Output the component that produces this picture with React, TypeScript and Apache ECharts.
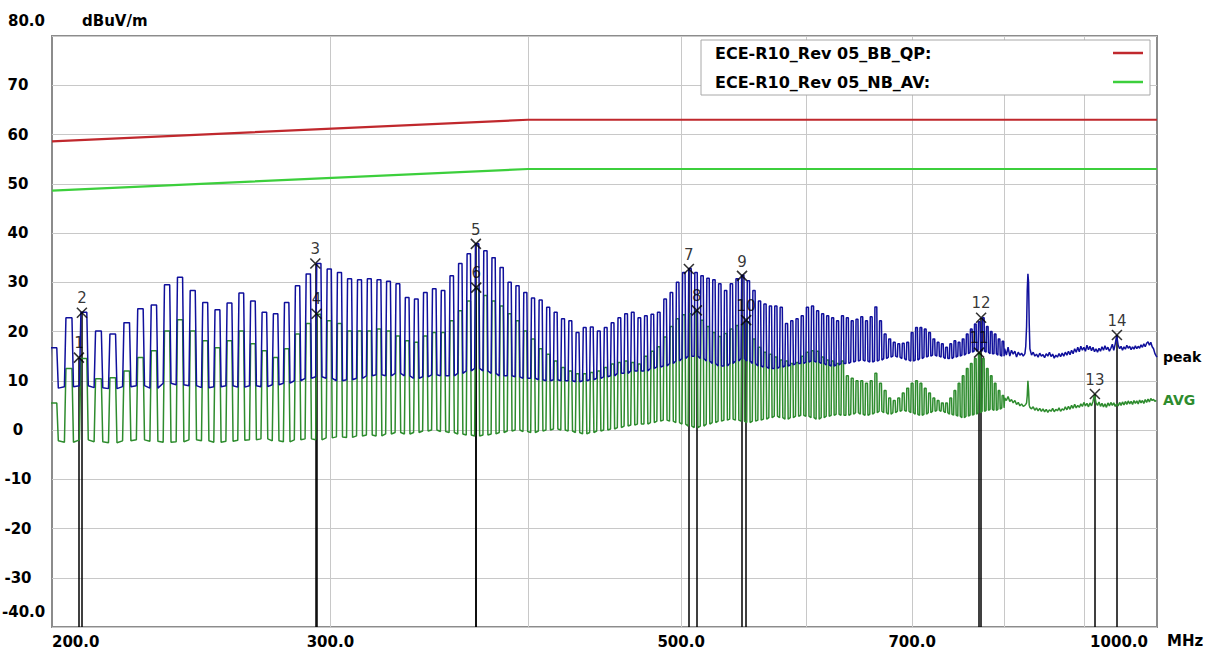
import React, { useEffect, useRef } from 'react';
import * as echarts from 'echarts';

// ---- Comb region (200 - 800 MHz): one entry per comb line ----
const COMB_START_MHZ = 200.5;
const COMB_STEP_MHZ = 4.5;

const peakTop = [
  16.7, 22.8, 23.9, 20.1, 19.5, 21.8, 24.6, 25.4, 29.5, 31.0, 28.3, 25.9, 24.4, 25.8, 27.8,
  26.2, 23.9, 23.6, 25.9, 29.3, 31.7, 33.8, 32.7, 32.0, 30.7, 30.5, 30.7, 30.5, 30.2, 29.7, 26.9, 26.6, 27.9, 28.7, 28.3,
  31.3, 33.8, 35.8, 37.8, 36.4, 35.0, 33.0, 30.0, 29.3, 27.9, 26.8, 26.4, 24.9, 23.9, 22.6, 22.2, 19.8, 20.8, 20.9, 20.1, 20.8, 21.8, 22.8, 23.6, 23.9, 22.8,
  23.2, 23.5, 23.9, 26.6, 27.9, 30.0, 32.0, 32.8, 32.0, 31.3, 30.8, 30.5, 29.7, 28.3, 29.7, 30.7, 31.4, 30.3, 28.3, 26.2, 25.6, 25.2, 25.2, 24.9, 21.6, 22.2, 22.6, 23.2, 24.9, 25.2, 24.2, 23.6, 23.2, 22.8, 22.2, 23.2,
  22.8, 22.2, 22.5, 23.0, 22.2, 23.0, 25.0, 22.2, 19.5, 18.5, 17.8, 17.5, 17.6, 17.8, 19.8, 20.8, 20.8, 20.5, 19.8, 18.5, 17.8, 17.5, 16.8, 17.5, 18.1, 17.8, 18.5, 19.5, 20.5, 21.5, 22.0, 22.8, 21.0, 20.0, 19.5, 18.5, 18.0,
];

const peakBase = [
  8.5, 8.8, 9.0, 8.6, 8.4, 8.8, 9.0, 8.5, 9.5, 9.2, 9.0, 8.6, 8.8, 9.0, 8.7,
  9.0, 8.8, 9.2, 9.5, 10.0, 10.5, 10.8, 10.5, 10.0, 10.2, 10.5, 11.0, 11.2, 11.0, 11.5, 11.0, 10.5, 10.8, 11.2, 11.0,
  11.0, 11.5, 12.0, 12.5, 12.0, 11.5, 11.0, 11.0, 10.8, 10.5, 10.5, 10.2, 10.0, 10.2, 10.0, 10.0, 9.8, 10.0, 10.2, 10.5, 10.8, 11.0, 11.5, 11.5, 12.0, 12.0,
  12.0, 12.5, 12.8, 13.0, 13.5, 14.0, 14.5, 15.0, 15.0, 14.5, 14.0, 13.5, 13.0, 13.0, 13.5, 14.0, 14.5, 14.0, 13.5, 13.0, 12.8, 12.5, 12.5, 12.8, 13.0, 13.2, 13.5, 13.5, 13.8, 14.0, 13.8, 13.5, 13.2, 13.0, 13.2, 13.5,
  13.5, 13.8, 14.0, 14.2, 14.0, 13.8, 14.0, 14.2, 14.5, 14.8, 15.0, 14.8, 14.5, 14.2, 14.0, 14.2, 14.5, 14.8, 15.0, 15.2, 15.0, 14.8, 14.5, 14.5, 14.8, 15.0, 15.2, 15.5, 15.8, 16.0, 16.2, 16.0, 15.8, 15.5, 15.5, 15.2, 15.0,
];

const avgTop = [
  5.5, 12.5, 14.5, 10.4, 10.6, 12.0, 14.7, 16.1, 20.1, 22.4, 20.1, 18.1, 16.7, 18.1, 20.1,
  17.5, 16.1, 14.7, 16.5, 19.5, 21.6, 23.5, 22.2, 21.6, 20.1, 20.1, 20.1, 20.5, 20.1, 19.1, 18.1, 17.8, 19.1, 19.8, 19.8,
  22.2, 24.2, 26.2, 28.8, 27.3, 26.2, 25.2, 23.6, 22.2, 20.1, 18.5, 16.5, 15.4, 14.0, 12.7, 12.0, 11.4, 11.4, 11.7, 12.0, 12.7, 13.4, 13.7, 14.0, 13.7, 13.4,
  15.0, 16.0, 16.9, 18.9, 21.0, 22.6, 23.4, 23.6, 24.2, 22.3, 21.0, 19.8, 19.0, 19.6, 20.5, 21.2, 21.5, 22.0, 18.5, 16.8, 15.8, 15.4, 14.8, 14.2, 14.0, 13.5, 13.7, 15.0, 15.8, 16.1, 16.0, 14.8, 14.2, 14.0, 13.5, 14.0,
  11.0, 10.5, 10.0, 10.0, 9.5, 10.0, 11.5, 9.5, 8.0, 6.5, 6.0, 6.5, 7.5, 8.5, 9.5, 10.0, 9.5, 8.5, 7.5, 6.5, 6.0, 5.5, 5.5, 6.5, 8.0, 9.5, 11.0, 12.5, 13.5, 14.5, 15.7, 14.5, 12.5, 11.0, 9.5, 8.0, 7.0,
];

const avgBase = [
  -2.2, -2.5, -2.0, -2.4, -2.6, -2.2, -2.0, -2.3, -2.5, -2.4, -2.0, -2.2, -2.5, -2.3, -2.1,
  -2.0, -1.8, -2.2, -2.4, -2.0, -1.8, -2.0, -1.6, -1.4, -1.5, -1.2, -1.0, -1.2, -0.8, -0.5, -0.8, -0.5, -0.2, 0.0, -0.3,
  -0.5, -0.8, -1.0, -1.2, -1.0, -0.8, -0.5, -0.2, 0.0, -0.3, -0.5, -0.2, 0.0, 0.2, 0.0, -0.2, -0.5, -0.8, -0.5, -0.2, 0.0, 0.2, 0.5, 0.8, 1.0, 1.2,
  1.2, 1.5, 1.8, 2.0, 1.8, 1.5, 1.2, 0.8, 0.5, 0.8, 1.2, 1.5, 1.8, 2.0, 2.2, 2.0, 1.8, 1.5, 1.8, 2.0, 2.2, 2.5, 2.8, 2.5, 2.2, 2.5, 2.8, 3.0, 2.8, 2.5, 2.2, 2.5, 2.8, 3.0, 3.2, 3.0,
  3.0, 3.2, 3.5, 3.2, 3.0, 3.2, 3.5, 3.8, 3.5, 3.2, 3.5, 3.8, 4.0, 3.8, 3.5, 3.2, 3.0, 3.2, 3.5, 3.8, 4.0, 3.8, 3.5, 3.2, 3.0, 2.8, 2.5, 2.8, 3.0, 3.2, 3.5, 3.8, 4.0, 4.2, 4.0, 4.2, 4.5,
];

// ---- Tail region (800 - 1000 MHz): noise floor with one narrow spike ----
const tailFreq = [
  801, 803, 805, 807, 809, 811, 813, 815, 817, 819, 821, 823, 825,
  826, 827, 827.8, 828.6, 829.4, 830.2, 831,
  833, 835, 837, 839, 841, 843, 845, 847, 849, 851, 853, 855, 857, 859, 861, 863, 865, 867, 869, 871,
  873, 875, 877, 879, 881, 883, 885, 887, 889, 891, 893, 895, 897, 899, 901, 903, 905, 907, 909, 911,
  913, 915, 917, 919, 921, 923, 925, 927, 929, 931, 933, 935, 937, 939, 941, 943, 945, 947, 949, 951,
  953, 955, 957, 959, 961, 963, 965, 967, 969, 971, 973, 975, 977, 979, 981, 983, 985, 987, 989, 991,
  993, 995, 997, 999, 1000,
];
const peakTailVal = [
  16.5, 15.2, 16.8, 15.0, 16.2, 15.4, 16.0, 14.8, 15.8, 15.2, 15.6, 15.0, 15.5,
  17.0, 21.0, 28.3, 31.7, 30.0, 21.5, 16.5,
  15.2, 15.8, 15.0, 15.4, 14.8, 15.6, 15.0, 15.3, 14.7, 15.5, 15.0, 15.8, 14.9, 15.4, 14.6, 15.2, 14.8, 15.5, 14.9, 15.6,
  15.0, 15.8, 15.2, 16.0, 15.3, 16.2, 15.5, 16.5, 15.8, 16.8, 15.9, 17.0, 16.2, 16.8, 16.0, 17.2, 16.3, 17.0, 16.1, 16.8,
  15.9, 16.5, 15.8, 16.6, 16.0, 16.9, 16.2, 17.1, 16.3, 16.8, 16.0, 16.6, 17.4, 16.2, 17.5, 19.2, 17.2, 16.5, 17.0, 16.2,
  16.9, 16.4, 17.2, 16.6, 17.0, 16.3, 16.9, 16.4, 17.1, 16.5, 17.0, 16.6, 17.3, 16.8, 17.5, 16.9, 17.6, 17.9, 17.2, 17.8,
  16.9, 16.5, 15.5, 15.0, 14.8,
];
const avgTailVal = [
  6.5, 6.0, 6.8, 5.8, 6.2, 5.5, 6.0, 5.2, 5.6, 4.9, 5.3, 4.8, 5.0,
  5.2, 5.5, 7.0, 10.0, 8.0, 5.0, 4.6,
  4.3, 4.7, 4.0, 4.5, 3.9, 4.4, 3.8, 4.3, 3.7, 4.2, 3.6, 4.1, 3.8, 4.4, 3.7, 4.2, 3.9, 4.5, 3.8, 4.3,
  4.0, 4.7, 4.1, 4.8, 4.2, 5.0, 4.4, 5.2, 4.5, 5.0, 4.6, 5.3, 4.8, 5.6, 4.9, 5.4, 4.7, 5.5, 4.9, 5.8,
  7.2, 5.5, 5.0, 5.7, 4.8, 5.4, 4.7, 5.3, 4.6, 5.5, 4.9, 5.6, 5.0, 5.5, 4.8, 5.3, 4.9, 5.6, 5.0, 5.7,
  5.1, 5.8, 5.2, 5.9, 5.3, 5.8, 5.2, 6.0, 5.4, 5.9, 5.3, 6.1, 5.5, 6.0, 5.4, 6.2, 5.6, 6.3, 5.7, 6.4,
  6.0, 6.2, 5.8, 6.0, 6.0,
];

// ---- Limit lines ----
const limitFreq = [200, 400, 1000];
const qpLimitVal = [58.6, 63.0, 63.0];
const avLimitVal = [48.6, 53.0, 53.0];

// ---- Markers ----
const markerNo = ['1', '2', '3', '4', '5', '6', '7', '8', '9', '10', '11', '12', '13', '14'];
const markerFreq = [208.0, 208.9, 293.5, 294.0, 370.8, 371.0, 505.7, 511.6, 546.4, 549.7, 771.7, 774.0, 913.5, 943.3];
const markerVal = [14.7, 23.8, 33.8, 23.6, 37.8, 28.9, 32.7, 24.3, 31.3, 22.3, 15.7, 22.8, 7.3, 19.3];

// ---- Axes ----
const xLabelValues = [200, 300, 500, 700, 1000];
const xGridValues = [300, 400, 500, 600, 700, 800, 900];
const Y_MIN = -40;
const Y_MAX = 80;
const Y_STEP = 10;

const legendNames = ['ECE-R10_Rev 05_BB_QP:', 'ECE-R10_Rev 05_NB_AV:'];

const FONT = '"DejaVu Sans", "Liberation Sans", sans-serif';
const C_PEAK = '#10109c';
const C_AVG = '#2e8c2e';
const C_QP = '#c0282d';
const C_AV = '#3ccf3c';

function buildComb(top: number[], base: number[]): number[][] {
  const pts: number[][] = [];
  for (let k = 0; k < top.length; k++) {
    const f = COMB_START_MHZ + k * COMB_STEP_MHZ;
    pts.push([f - 0.3 * COMB_STEP_MHZ, base[k]]);
    pts.push([f - 0.2 * COMB_STEP_MHZ, top[k]]);
    pts.push([f + 0.2 * COMB_STEP_MHZ, top[k]]);
    pts.push([f + 0.3 * COMB_STEP_MHZ, base[k]]);
  }
  return pts;
}

function buildTrace(top: number[], base: number[], tail: number[]): number[][] {
  const pts = buildComb(top, base);
  tailFreq.forEach((f, i) => pts.push([f, tail[i]]));
  return pts;
}

export default function App() {
  const ref = useRef<HTMLDivElement>(null);

  useEffect(() => {
    document.body.style.margin = '0';
    if (!ref.current) return;
    const chart = echarts.init(ref.current, undefined, { renderer: 'svg' });

    const peakData = buildTrace(peakTop, peakBase, peakTailVal);
    const avgData = buildTrace(avgTop, avgBase, avgTailVal);

    const option: any = {
      animation: false,
      backgroundColor: '#ffffff',
      grid: {
        left: 52,
        right: 59,
        top: 36,
        bottom: 27,
        show: true,
        borderColor: '#8c8c8c',
        borderWidth: 2,
        backgroundColor: 'transparent',
      },
      xAxis: {
        type: 'log',
        logBase: 10,
        min: 200,
        max: 1000,
        axisLine: { show: false },
        axisTick: { show: false, customValues: xGridValues },
        minorTick: { show: false },
        minorSplitLine: { show: false },
        splitLine: { show: true, lineStyle: { color: '#c8c8c8', width: 1 } },
        axisLabel: {
          customValues: xLabelValues,
          formatter: (v: number) => (v >= 1000 ? '{r|' + v.toFixed(1) + '}' : v.toFixed(1)),
          rich: { r: { padding: [0, 9, 0, 0], fontFamily: FONT, fontWeight: 'bold', fontSize: 15, color: '#000' } },
          fontFamily: FONT,
          fontWeight: 'bold',
          fontSize: 15,
          color: '#000',
          margin: 7,
          alignMinLabel: 'left',
          alignMaxLabel: 'right',
          showMinLabel: true,
          showMaxLabel: true,
        },
      },
      yAxis: {
        type: 'value',
        min: Y_MIN,
        max: Y_MAX,
        interval: Y_STEP,
        axisLine: { show: false },
        axisTick: { show: false },
        splitLine: { show: true, lineStyle: { color: '#c8c8c8', width: 1 } },
        axisLabel: {
          formatter: (v: number) => (v === Y_MAX || v === Y_MIN ? '' : String(v)),
          fontFamily: FONT,
          fontWeight: 'bold',
          fontSize: 15,
          color: '#000',
          align: 'center',
          margin: 34,
        },
      },
      series: [
        {
          type: 'line',
          name: 'QP limit',
          data: limitFreq.map((f, i) => [f, qpLimitVal[i]]),
          symbol: 'none',
          lineStyle: { color: C_QP, width: 2.2 },
          z: 3,
        },
        {
          type: 'line',
          name: 'AV limit',
          data: limitFreq.map((f, i) => [f, avLimitVal[i]]),
          symbol: 'none',
          lineStyle: { color: C_AV, width: 2.2 },
          z: 3,
        },
        {
          type: 'lines',
          coordinateSystem: 'cartesian2d',
          data: markerFreq.map((f, i) => ({ coords: [[f, markerVal[i]], [f, Y_MIN]] })),
          lineStyle: { color: '#000', width: 1.5, opacity: 1 },
          z: 2,
          silent: true,
        },
        {
          type: 'line',
          name: 'AVG',
          data: avgData,
          symbol: 'none',
          lineStyle: { color: C_AVG, width: 1.5 },
          z: 4,
          endLabel: {
            show: true,
            formatter: 'AVG',
            color: C_AVG,
            fontFamily: FONT,
            fontWeight: 'bold',
            fontSize: 14,
            distance: 6,
          },
        },
        {
          type: 'line',
          name: 'peak',
          data: peakData,
          symbol: 'none',
          lineStyle: { color: C_PEAK, width: 1.5 },
          z: 5,
          endLabel: {
            show: true,
            formatter: 'peak',
            color: '#000',
            fontFamily: FONT,
            fontWeight: 'bold',
            fontSize: 14,
            distance: 6,
          },
        },
        {
          type: 'scatter',
          name: 'markers',
          data: markerFreq.map((f, i) => [f, markerVal[i], markerNo[i]]),
          symbol: 'path://M0,0L10,10M10,0L0,10',
          symbolSize: 10,
          itemStyle: { color: 'transparent', borderColor: '#000', borderWidth: 1.6 },
          label: {
            show: true,
            position: 'top',
            distance: 1,
            formatter: (p: any) => p.value[2],
            fontFamily: FONT,
            fontSize: 15,
            color: '#000',
          },
          z: 10,
        },
      ],
      graphic: [
        {
          type: 'text',
          x: 8,
          y: 21,
          z: 100,
          style: { text: '80.0', font: 'bold 15px ' + FONT, fill: '#000', textVerticalAlign: 'middle' },
        },
        {
          type: 'text',
          x: 82,
          y: 21,
          z: 100,
          style: { text: 'dBuV/m', font: 'bold 15px ' + FONT, fill: '#000', textVerticalAlign: 'middle' },
        },
        {
          type: 'text',
          x: 2,
          y: 612,
          z: 100,
          style: { text: '-40.0', font: 'bold 15px ' + FONT, fill: '#000', textVerticalAlign: 'middle' },
        },
        {
          type: 'text',
          x: 1167,
          y: 641,
          z: 100,
          style: { text: 'MHz', font: 'bold 15px ' + FONT, fill: '#000', textVerticalAlign: 'middle' },
        },
        {
          type: 'group',
          z: 100,
          children: [
            {
              type: 'rect',
              z: 100,
              shape: { x: 701, y: 40, width: 449, height: 55 },
              style: { fill: '#ffffff', stroke: '#a8a8a8', lineWidth: 1 },
            },
            {
              type: 'text',
              z: 101,
              x: 715,
              y: 53,
              style: { text: legendNames[0], font: 'bold 16px ' + FONT, fill: '#000', textVerticalAlign: 'middle' },
            },
            {
              type: 'text',
              z: 101,
              x: 715,
              y: 82,
              style: { text: legendNames[1], font: 'bold 16px ' + FONT, fill: '#000', textVerticalAlign: 'middle' },
            },
            {
              type: 'line',
              z: 101,
              shape: { x1: 1113, y1: 53, x2: 1143, y2: 53 },
              style: { stroke: C_QP, lineWidth: 2.5 },
            },
            {
              type: 'line',
              z: 101,
              shape: { x1: 1113, y1: 82, x2: 1143, y2: 82 },
              style: { stroke: C_AV, lineWidth: 2.5 },
            },
          ],
        },
      ],
    };

    chart.setOption(option);
    return () => chart.dispose();
  }, []);

  return <div ref={ref} style={{ width: 1216, height: 654 }} />;
}
